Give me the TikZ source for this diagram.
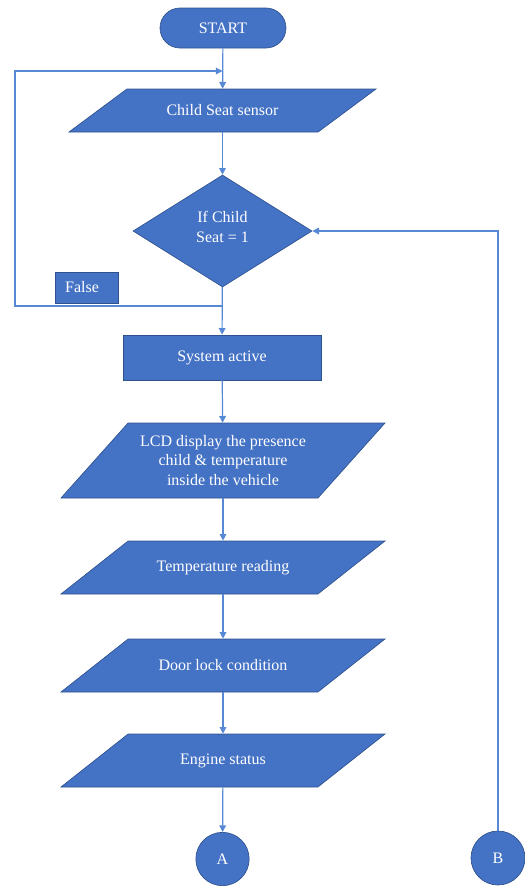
\documentclass[tikz,border=0pt]{standalone}
\usepackage{fontspec}
\setmainfont{Liberation Serif}
\usetikzlibrary{shapes.geometric,shapes.misc,arrows.meta}
\definecolor{boxblue}{RGB}{68,114,196}
\definecolor{edgeblue}{RGB}{47,82,143}
\definecolor{lineblue}{RGB}{86,136,214}
\tikzset{
  fc/.style={fill=boxblue,draw=edgeblue,line width=0.5pt,text=white,inner sep=0pt,align=center,font=\rmfamily\fontsize{12}{14.5}\selectfont},
  io/.style={fc,trapezium,trapezium stretches body,inner xsep=0pt},
  txt/.style={text=white,align=center,font=\rmfamily\fontsize{12}{14.5}\selectfont},
  arr/.style={draw=lineblue,line width=0.9pt,-{Triangle[length=5pt,width=5pt]}},
  ln/.style={draw=lineblue,line width=0.9pt}
}
\begin{document}
\begin{tikzpicture}[x=0.75pt,y=0.75pt,yscale=-1,xscale=1]
\useasboundingbox (0,0) rectangle (525,886);
% Terminal
\node[fc,rounded rectangle,minimum width=94.5pt,minimum height=30pt] (start) at (223,28) {START};
% Inputs
\node[io,trapezium left angle=36.6,trapezium right angle=143.4,minimum width=230.25pt,inner ysep=16.125pt,
  label={[txt]center:Child Seat sensor}] (sensor) at (222.5,110.5) {};
% Decision
\node[fc,diamond,minimum width=134.25pt,minimum height=84pt,
  label={[txt,yshift=3pt]center:If Child\\Seat = 1}] (cond) at (222.5,231) {};
\node[fc,minimum width=47.25pt,minimum height=23.25pt,text width=32pt,align=left] (false) at (86.5,287.5) {False};
% Process
\node[fc,rectangle,minimum width=148.5pt,minimum height=33.75pt] (act) at (222,357.5) {System active};
\node[io,trapezium left angle=48.2,trapezium right angle=131.8,minimum width=243pt,inner ysep=28.125pt,
  label={[txt]center:LCD display the presence\\child \& temperature\\inside the vehicle}] (lcd) at (223,460.5) {};
\node[io,trapezium left angle=38.3,trapezium right angle=141.7,minimum width=243pt,inner ysep=19.875pt,
  label={[txt]center:Temperature reading}] (temp) at (223,567.5) {};
\node[io,trapezium left angle=38.3,trapezium right angle=141.7,minimum width=243pt,inner ysep=19.875pt,
  label={[txt]center:Door lock condition}] (door) at (223,665.5) {};
\node[io,trapezium left angle=38.3,trapezium right angle=141.7,minimum width=243pt,inner ysep=19.875pt,
  label={[txt]center:Engine status}] (engine) at (223,760.5) {};
% Connectors
\node[fc,circle,minimum size=40pt] (A) at (222.5,859) {A};
\node[fc,circle,minimum size=40.5pt] (B) at (498,858) {B};
% Loop points
\coordinate (jn) at (cond.south |- 0,306);
\coordinate (lb) at (15,306);
\coordinate (lt) at (15,71);
\coordinate (mrg) at (sensor.north |- 0,71);
% Arrows
\draw[arr] (start) -- (sensor);
\draw[arr] (sensor) -- (cond);
\draw[arr] (cond) -- (act);
\draw[arr] (jn) -- (lb) -- (lt) -- (mrg);
\draw[arr] (act) -- (lcd);
\draw[arr] (lcd) -- (temp);
\draw[arr] (temp) -- (door);
\draw[arr] (door) -- (engine);
\draw[arr] (engine) -- (A);
\draw[arr] (B.north) |- (cond.east);
\end{tikzpicture}
\end{document}
